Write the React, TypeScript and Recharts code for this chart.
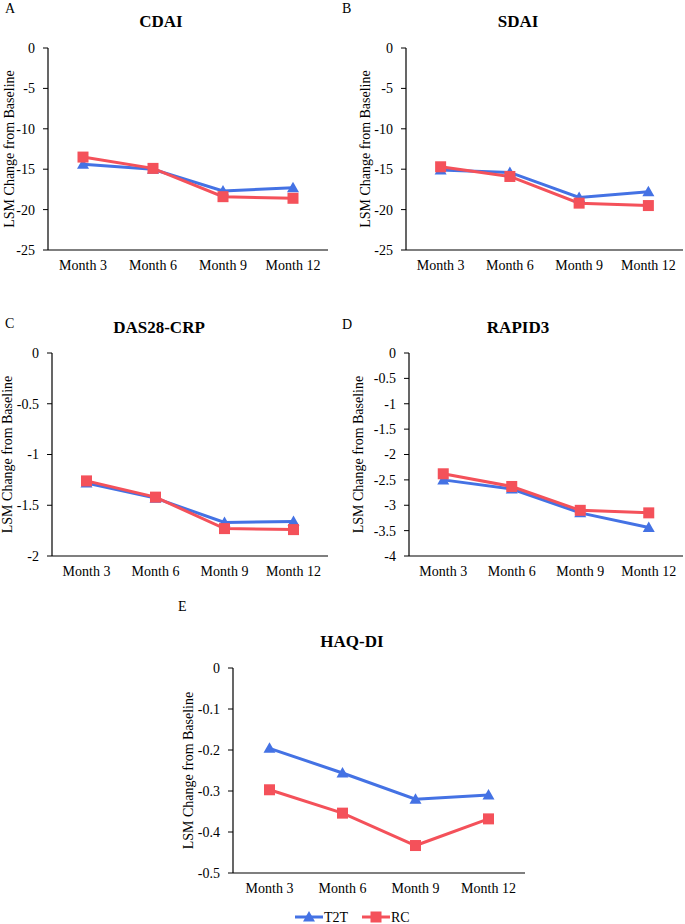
import React from 'react';
import { LineChart, Line, XAxis, YAxis } from 'recharts';

const categories = ['Month 3', 'Month 6', 'Month 9', 'Month 12'];
const seriesNames = ['T2T', 'RC'];

const cdaiT2T = [-14.4, -15.0, -17.7, -17.3];
const cdaiRC = [-13.5, -14.9, -18.4, -18.6];
const sdaiT2T = [-15.1, -15.4, -18.5, -17.8];
const sdaiRC = [-14.7, -15.9, -19.2, -19.5];
const dasT2T = [-1.28, -1.43, -1.67, -1.66];
const dasRC = [-1.26, -1.42, -1.73, -1.74];
const rapidT2T = [-2.5, -2.68, -3.15, -3.44];
const rapidRC = [-2.38, -2.63, -3.1, -3.15];
const haqT2T = [-0.196, -0.256, -0.32, -0.31];
const haqRC = [-0.297, -0.354, -0.433, -0.368];

const ticks25 = [0, -5, -10, -15, -20, -25];
const ticks2 = [0, -0.5, -1, -1.5, -2];
const ticks4 = [0, -0.5, -1, -1.5, -2, -2.5, -3, -3.5, -4];
const ticks05 = [0, -0.1, -0.2, -0.3, -0.4, -0.5];

const W = 685;
const H = 924;
const FONT = 'Liberation Serif';
const BLUE = '#4472E4';
const RED = '#F4515A';
const textStyle = { fontFamily: FONT };

const Triangle = (props: any) => {
  const { cx, cy } = props;
  if (cx == null || cy == null) return null;
  return <path d={`M${cx},${cy - 6}L${cx + 6},${cy + 4.5}L${cx - 6},${cy + 4.5}Z`} fill={BLUE} />;
};
const Square = (props: any) => {
  const { cx, cy } = props;
  if (cx == null || cy == null) return null;
  return <rect x={cx - 5.5} y={cy - 5.5} width={11} height={11} fill={RED} />;
};

type PanelProps = {
  t2t: number[];
  rc: number[];
  ticks: number[];
  left: number;
  top: number;
  right: number;
  bottom: number;
  labelX: number;
};

function Panel({ t2t, rc, ticks, left, top, right, bottom, labelX }: PanelProps) {
  const data = categories.map((m, i) => ({ month: m, t2t: t2t[i], rc: rc[i] }));
  const yw = 40;
  const xh = 30;
  const w = right - left;
  const midY = (top + bottom) / 2;
  return (
    <div style={{ position: 'absolute', left: 0, top: 0 }}>
      <LineChart
        width={W}
        height={H}
        data={data}
        style={textStyle}
        margin={{ top, left: left - yw, right: W - right, bottom: H - bottom - xh }}
      >
        <XAxis
          dataKey="month"
          height={xh}
          tickLine={false}
          tickSize={0}
          tickMargin={10}
          padding={{ left: w / 8, right: w / 8 }}
          axisLine={{ stroke: '#000', strokeWidth: 1.2 }}
          tick={{ fill: '#000', fontSize: 14, style: textStyle }}
        />
        <YAxis
          width={yw}
          type="number"
          domain={[ticks[ticks.length - 1], 0]}
          ticks={ticks}
          interval={0}
          allowDataOverflow
          tickSize={5}
          tickMargin={8}
          axisLine={{ stroke: '#000', strokeWidth: 1.2 }}
          tickLine={{ stroke: '#000' }}
          tick={{ fill: '#000', fontSize: 14, style: textStyle }}
          label={{
            content: () => (
              <text
                x={labelX}
                y={midY}
                transform={`rotate(-90 ${labelX} ${midY})`}
                textAnchor="middle"
                dominantBaseline="central"
                fontSize={14}
                style={textStyle}
                fill="#000"
              >
                LSM Change from Baseline
              </text>
            ),
          }}
        />
        <Line
          dataKey="t2t"
          name={seriesNames[0]}
          stroke={BLUE}
          strokeWidth={3}
          dot={<Triangle />}
          activeDot={false}
          isAnimationActive={false}
        />
        <Line
          dataKey="rc"
          name={seriesNames[1]}
          stroke={RED}
          strokeWidth={3}
          dot={<Square />}
          activeDot={false}
          isAnimationActive={false}
        />
      </LineChart>
    </div>
  );
}

const titles = [
  { text: 'CDAI', x: 161, y: 27 },
  { text: 'SDAI', x: 518, y: 27 },
  { text: 'DAS28-CRP', x: 159, y: 333 },
  { text: 'RAPID3', x: 518, y: 333 },
  { text: 'HAQ-DI', x: 352, y: 647 },
];
const letters = [
  { text: 'A', x: 5, y: 13 },
  { text: 'B', x: 342, y: 13 },
  { text: 'C', x: 5, y: 328 },
  { text: 'D', x: 342, y: 329 },
  { text: 'E', x: 178, y: 611 },
];

export default function App() {
  return (
    <div style={{ position: 'absolute', left: 0, top: 0, width: W, height: H, background: '#fff', fontFamily: FONT }}>
      <Panel t2t={cdaiT2T} rc={cdaiRC} ticks={ticks25} left={48} top={48} right={328} bottom={250} labelX={9} />
      <Panel t2t={sdaiT2T} rc={sdaiRC} ticks={ticks25} left={406} top={48} right={683} bottom={250} labelX={365} />
      <Panel t2t={dasT2T} rc={dasRC} ticks={ticks2} left={52} top={353} right={328} bottom={556} labelX={7} />
      <Panel t2t={rapidT2T} rc={rapidRC} ticks={ticks4} left={409} top={353} right={683} bottom={556} labelX={358} />
      <Panel t2t={haqT2T} rc={haqRC} ticks={ticks05} left={233} top={668} right={525} bottom={873} labelX={188} />
      <svg width={W} height={H} style={{ position: 'absolute', left: 0, top: 0, pointerEvents: 'none' }}>
        {titles.map((t) => (
          <text key={t.text} x={t.x} y={t.y} textAnchor="middle" fontSize={17} fontWeight="bold" style={textStyle} fill="#000">
            {t.text}
          </text>
        ))}
        {letters.map((t) => (
          <text key={t.text} x={t.x} y={t.y} fontSize={14} style={textStyle} fill="#000">
            {t.text}
          </text>
        ))}
        <g>
          <line x1={295} y1={917} x2={323} y2={917} stroke={BLUE} strokeWidth={3} />
          <Triangle cx={309} cy={917} />
          <text x={324} y={917} dominantBaseline="central" fontSize={14} style={textStyle} fill="#000">{seriesNames[0]}</text>
          <line x1={362} y1={917} x2={390} y2={917} stroke={RED} strokeWidth={3} />
          <Square cx={376} cy={917} />
          <text x={391} y={917} dominantBaseline="central" fontSize={14} style={textStyle} fill="#000">{seriesNames[1]}</text>
        </g>
      </svg>
    </div>
  );
}
